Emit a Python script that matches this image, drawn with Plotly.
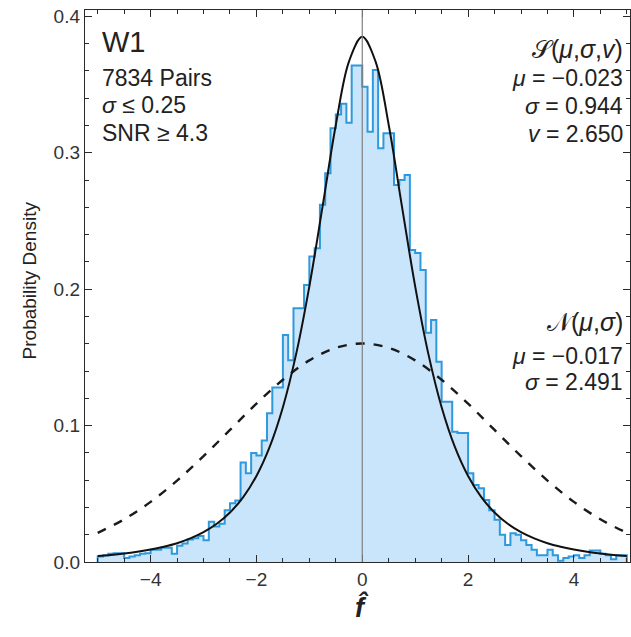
import plotly.graph_objects as go

# ---------------- data ----------------
bin_start = -5.0
bin_width = 0.1
hist_density = [
    0.004, 0.005, 0.006, 0.0065, 0.0065, 0.003, 0.004, 0.005, 0.006, 0.0065,   # -5.0 .. -4.1
    0.009, 0.009, 0.0105, 0.0105, 0.006, 0.012, 0.0135, 0.0165, 0.0175, 0.019, # -4.0 .. -3.1
    0.016, 0.0295, 0.026, 0.028, 0.038, 0.043, 0.045, 0.073, 0.065, 0.080,     # -3.0 .. -2.1
    0.078, 0.089, 0.109, 0.128, 0.128, 0.1665, 0.148, 0.186, 0.186, 0.203,     # -2.0 .. -1.1
    0.224, 0.230, 0.262, 0.285, 0.318, 0.328, 0.336, 0.322, 0.364, 0.364,      # -1.0 .. -0.1
    0.3485, 0.3155, 0.3607, 0.3033, 0.3143, 0.3143, 0.2764, 0.280, 0.2837, 0.2287,  # 0.0 .. 0.9
    0.2265, 0.214, 0.168, 0.1774, 0.1469, 0.1175, 0.1175, 0.0955, 0.0945, 0.0945,  # 1.0 .. 1.9
    0.065, 0.0565, 0.054, 0.0455, 0.038, 0.031, 0.020, 0.0125, 0.021, 0.020,   # 2.0 .. 2.9
    0.016, 0.0125, 0.009, 0.005, 0.005, 0.009, 0.005, 0.001, 0.003, 0.004,     # 3.0 .. 3.9
    0.005, 0.003, 0.005, 0.0085, 0.0085, 0.006, 0.005, 0.002, 0.005, 0.005,    # 4.0 .. 4.9
]

# Student-t fit curve, x and density
t_x = [-5.0, -4.75, -4.5, -4.25, -4.0, -3.75, -3.5, -3.25, -3.0, -2.75, -2.5, -2.25,
       -2.0, -1.75, -1.5, -1.25, -1.0, -0.75, -0.5, -0.25, 0.0,
       0.25, 0.5, 0.75, 1.0, 1.25, 1.5, 1.75, 2.0, 2.25, 2.5, 2.75,
       3.0, 3.25, 3.5, 3.75, 4.0, 4.25, 4.5, 4.75, 5.0]
t_y = [0.0044, 0.0052, 0.0062, 0.0075, 0.0091, 0.0112, 0.0138, 0.0173, 0.0219, 0.0280, 0.0363, 0.0476,
       0.0631, 0.0844, 0.1135, 0.1524, 0.2021, 0.2607, 0.3204, 0.3671, 0.3850,
       0.3671, 0.3204, 0.2607, 0.2021, 0.1524, 0.1135, 0.0844, 0.0631, 0.0476, 0.0363, 0.0280,
       0.0219, 0.0173, 0.0138, 0.0112, 0.0091, 0.0075, 0.0062, 0.0052, 0.0044]

# Normal fit curve
n_x = [-5.0, -4.5, -4.0, -3.5, -3.0, -2.5, -2.0, -1.5, -1.0, -0.5, 0.0,
       0.5, 1.0, 1.5, 2.0, 2.5, 3.0, 3.5, 4.0, 4.5, 5.0]
n_y = [0.0214, 0.0313, 0.0441, 0.0597, 0.0776, 0.0968, 0.1161, 0.1336, 0.1478, 0.1570, 0.1602,
       0.1570, 0.1478, 0.1336, 0.1161, 0.0968, 0.0776, 0.0597, 0.0441, 0.0313, 0.0214]

left_lines = ["7834 Pairs", "<i>σ</i> ≤ 0.25", "SNR ≥ 4.3"]
student_lines = ["<i>μ</i> = −0.023", "<i>σ</i> = 0.944", "<i>v</i> = 2.650"]
normal_lines = ["<i>μ</i> = −0.017", "<i>σ</i> = 2.491"]

# ---------------- figure ----------------
edges = [round(bin_start + i * bin_width, 4) for i in range(len(hist_density) + 1)]
hx = [edges[0]] + edges + [edges[-1]]
hy = [0] + hist_density + [hist_density[-1], 0]

fig = go.Figure()
fig.add_trace(go.Scatter(
    x=hx, y=hy, mode="lines", line=dict(shape="hv", color="#2f99de", width=2),
    fill="tozeroy", fillcolor="#c9e5fb", hoverinfo="skip", showlegend=False))
fig.add_trace(go.Scatter(
    x=n_x, y=n_y, mode="lines", line=dict(color="#1a1a1a", width=2.4, dash="dash", shape="spline"),
    showlegend=False))
fig.add_trace(go.Scatter(
    x=t_x, y=t_y, mode="lines", line=dict(color="#111111", width=2, shape="spline", smoothing=1.0),
    showlegend=False))

fig.add_shape(type="line", xref="x", yref="paper", x0=0, x1=0, y0=0, y1=1,
              line=dict(color="#7f7f7f", width=1.2), layer="above")

font = "Liberation Sans, Arial, sans-serif"
txt = "#222222"

fig.add_annotation(xref="paper", yref="paper", x=0.028, y=0.942, text="W1", showarrow=False,
                   xanchor="left", yanchor="middle", font=dict(family=font, size=29, color=txt))
for i, s in enumerate(left_lines):
    fig.add_annotation(xref="paper", yref="paper", x=0.028, y=0.877 - 0.0495 * i, text=s,
                       showarrow=False, xanchor="left", yanchor="middle",
                       font=dict(family=font, size=23, color=txt))

fig.add_annotation(xref="paper", yref="paper", x=0.991, y=0.930, text="𝒮(<i>μ</i>,<i>σ</i>,<i>v</i>)",
                   showarrow=False, xanchor="right", yanchor="middle",
                   font=dict(family=font, size=25, color=txt))
for i, s in enumerate(student_lines):
    fig.add_annotation(xref="paper", yref="paper", x=0.991, y=0.877 - 0.0505 * i, text=s,
                       showarrow=False, xanchor="right", yanchor="middle",
                       font=dict(family=font, size=23, color=txt))

fig.add_annotation(xref="paper", yref="paper", x=0.991, y=0.435, text="𝒩(<i>μ</i>,<i>σ</i>)",
                   showarrow=False, xanchor="right", yanchor="middle",
                   font=dict(family=font, size=25, color=txt))
for i, s in enumerate(normal_lines):
    fig.add_annotation(xref="paper", yref="paper", x=0.991, y=0.374 - 0.048 * i, text=s,
                       showarrow=False, xanchor="right", yanchor="middle",
                       font=dict(family=font, size=23, color=txt))

fig.add_annotation(xref="paper", yref="paper", x=-0.101, y=0.51, text="Probability Density",
                   textangle=-90, showarrow=False, xanchor="center", yanchor="middle",
                   font=dict(family=font, size=19, color=txt))
fig.add_annotation(xref="paper", yref="paper", x=0.509, y=-0.082, text="<b><i>f̂</i></b>",
                   showarrow=False, xanchor="center", yanchor="middle",
                   font=dict(family=font, size=27, color=txt))

axis_common = dict(showline=True, linecolor="#2a2a2a", linewidth=1.4, mirror="allticks",
                   ticks="inside", tickcolor="#2a2a2a", tickwidth=1.2, showgrid=False,
                   zeroline=False, tickfont=dict(family=font, size=19, color="#333333"))

fig.update_xaxes(range=[-5.24, 5.06], tickvals=[-4, -2, 0, 2, 4], ticklen=7,
                 minor=dict(dtick=0.5, ticklen=4, ticks="inside", tickcolor="#2a2a2a", showgrid=False),
                 **axis_common)
fig.update_yaxes(range=[0, 0.4047], dtick=0.1, tick0=0, tickformat=".1f", ticklen=7,
                 minor=dict(dtick=0.02, ticklen=4, ticks="inside", tickcolor="#2a2a2a", showgrid=False),
                 **axis_common)

fig.update_layout(width=631, height=637, margin=dict(l=85, r=1, t=10, b=75),
                  plot_bgcolor="white", paper_bgcolor="white", showlegend=False)

fig.write_html("out.html")
